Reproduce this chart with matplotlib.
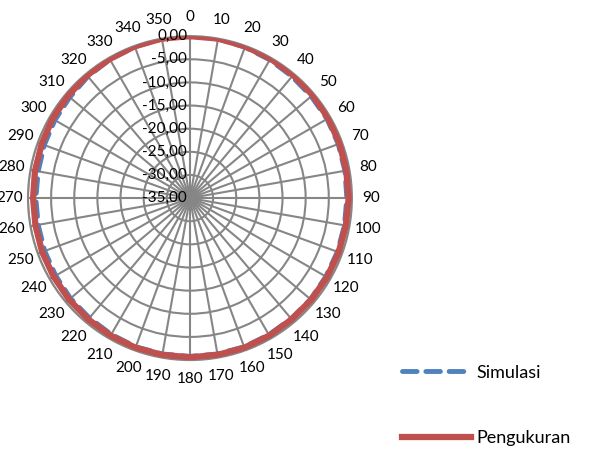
import numpy as np
import matplotlib.pyplot as plt

plt.rcParams['font.family'] = ['Lato', 'DejaVu Sans']

angles = list(range(0, 360, 10))
pengukuran = [0.0, 0.0, -0.1, -0.2, -0.3, -0.4, -0.5, -0.6, -0.7, -0.7, -0.8, -0.8,
              -0.8, -0.8, -0.8, -0.7, -0.6, -0.6, -0.6, -0.6, -0.6, -0.7, -0.8, -0.9,
              -1.0, -1.0, -1.1, -1.1, -1.0, -0.9, -0.7, -0.6, -0.4, -0.3, -0.1, 0.0]
simulasi = [0.0, -0.1, -0.3, -0.5, -0.7, -0.8, -0.8, -0.9, -1.0, -1.1, -1.1, -1.1,
            -1.1, -1.0, -1.0, -0.9, -0.8, -0.8, -0.8, -0.8, -0.8, -1.0, -1.2, -1.3,
            -1.5, -1.6, -1.7, -1.7, -1.7, -1.5, -1.3, -1.1, -0.7, -0.4, -0.2, -0.1]
rticks = [-35, -30, -25, -20, -15, -10, -5, 0]

fig = plt.figure(figsize=(5.89, 4.49), dpi=100)
ax = fig.add_axes([0.0475, 0.198, 0.550, 0.7216], projection='polar')
ax.set_theta_zero_location('N')
ax.set_theta_direction(-1)
ax.set_ylim(-35, 0)

th = np.deg2rad(angles + [angles[0]])
ax.plot(th, simulasi + [simulasi[0]], color='#4F81BD', lw=3.5, ls=(0, (3, 1.8)),
        dash_capstyle='round', label='Simulasi', zorder=3)
ax.plot(th, pengukuran + [pengukuran[0]], color='#C0504D', lw=4.5,
        label='Pengukuran', zorder=4)

ax.set_xticks(np.deg2rad(angles))
ax.set_xticklabels([str(a) for a in angles], fontsize=11)
ax.tick_params(axis='x', pad=3)
ax.set_yticks(rticks)
ax.set_yticklabels([])
ax.grid(True, color='#868686', lw=1.5)
ax.spines['polar'].set_color('#868686')
ax.spines['polar'].set_linewidth(1.5)

for r in rticks:
    ax.annotate(f'{r:.2f}'.replace('.', ','), xy=(0, r), xytext=(-2, 0),
                textcoords='offset points', ha='right', va='center', fontsize=11,
                zorder=5)

fig.legend(loc='lower left', bbox_to_anchor=(0.655, -0.03), frameon=False, fontsize=13,
           handlelength=3.8, labelspacing=2.75, handletextpad=0.3)

fig.savefig('out.png', dpi=100)
